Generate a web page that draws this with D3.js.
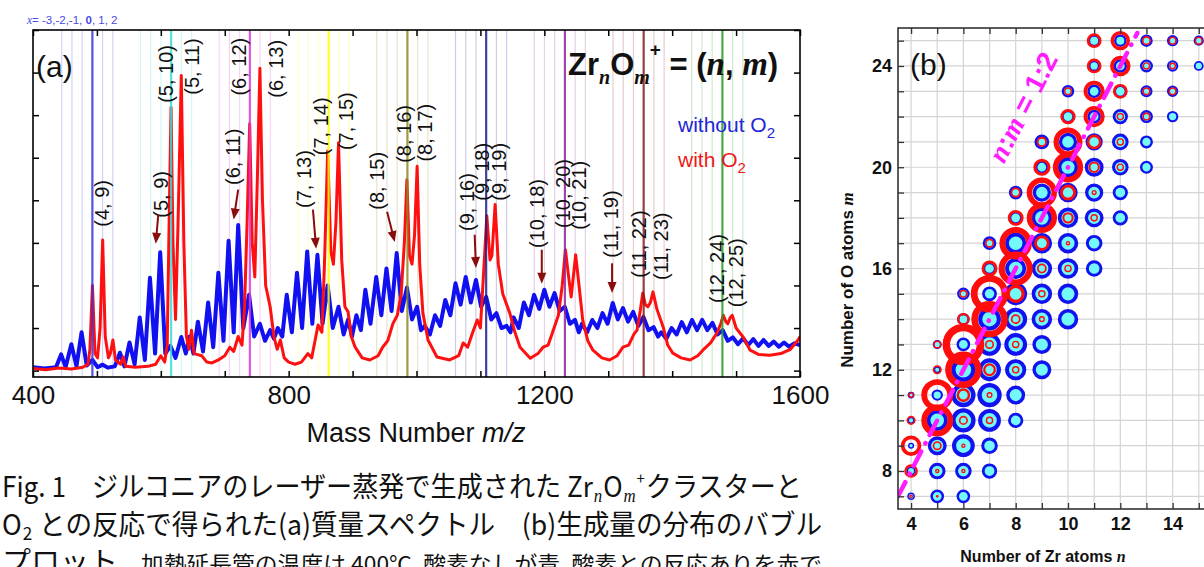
<!DOCTYPE html>
<meta charset="utf-8">
<style>
body{margin:0;background:#fff;}
svg{display:block;font-family:"Liberation Sans",Arial,sans-serif;}
.axis path{display:none;}
.axisA line{stroke:#000;stroke-width:1.5;}
.axisA text{font-size:26px;fill:#111;font-family:"Liberation Sans",Arial,sans-serif;}
.axisB line{stroke:#333;stroke-width:1.3;}
.axisB text{font-size:18px;font-weight:bold;fill:#111;font-family:"Liberation Sans",Arial,sans-serif;}
.peakLabel{font-size:20px;fill:#111;}
.cap{font-family:"Noto Sans CJK JP",sans-serif;fill:#111;}
</style>
<body>
<script src="https://cdn.jsdelivr.net/npm/d3@7"></script>
<script>
// ---------- data : panel (a) mass spectra ----------
var massTicks = [400,500,600,700,800,900,1000,1100,1200,1300,1400,1500,1600];
var massLabels = [400,800,1200,1600];
var intensityTicks = [0,1,2,3,4,5,6,7,8];

// Zr_nO_2n reference masses and their colours
var clusterN = [4,5,6,7,8,9,10,11,12];
var clusterMass = [492.9,616.1,739.3,862.5,985.8,1109.0,1232.2,1355.4,1478.6];
var clusterColor = ["#3434e0","#38dada","#d83ad8","#ffff00","#8c8a1e","#1c1c8c","#8e269e","#8c1a1a","#269c26"];
var oxygenShift = [-3,-2,-1,1,2];

// without O2 (blue) : [m/z, intensity]
var blueSpectrum = [
[400,0.08],[418,0.05],[436,0.08],[444,0.38],[451,0.08],[460,0.62],[468,0.1],[476,0.9],[484,0.12],[493,0.25],
[501,0.08],[509,0.14],[517,0.07],[528,0.1],[536,0.42],[543,0.1],[551,0.66],[559,0.15],[567,1.25],[575,0.25],
[583,2.18],[591,0.4],[599,2.78],[607,0.4],[615,0.58],[623,0.3],[632,0.79],[639,0.4],[645,0.8],[651,0.4],
[658,1.15],[666,0.45],[674,1.6],[682,0.55],[690,2.3],[698,0.7],[706,3.05],[714,0.9],[721,3.42],[729,1.0],
[738,1.78],[746,0.8],[755,1.1],[763,0.7],[771,0.95],[777,0.75],[783,1.0],[790,0.8],[797,1.78],[805,0.9],
[813,2.3],[821,1.0],[829,2.8],[837,1.1],[845,2.72],[853,1.1],[861,2.0],[869,1.0],[878,1.5],[886,0.85],
[893,1.2],[899,0.8],[906,1.3],[913,0.95],[920,1.9],[928,1.1],[937,2.2],[945,1.3],[953,2.4],[961,1.4],
[969,2.76],[977,1.4],[985,1.95],[993,1.2],[1001,1.5],[1007,0.95],[1013,1.05],[1021,0.85],[1029,1.3],[1037,1.05],
[1045,1.66],[1053,1.3],[1061,2.05],[1069,1.55],[1077,2.2],[1085,1.6],[1093,2.13],[1101,1.5],[1109,1.73],[1117,1.2],
[1125,1.35],[1133,1.0],[1141,1.05],[1147,0.9],[1152,1.25],[1160,1.0],[1168,1.6],[1176,1.3],[1184,1.78],[1192,1.45],
[1200,1.9],[1208,1.5],[1216,1.82],[1224,1.4],[1232,1.5],[1240,1.1],[1248,1.19],[1254,0.9],[1259,1.1],[1267,0.9],
[1275,1.19],[1283,1.0],[1291,1.35],[1299,1.1],[1307,1.59],[1315,1.2],[1323,1.47],[1331,1.15],[1339,1.38],[1347,1.05],
[1355,1.26],[1363,0.95],[1371,1.02],[1378,0.8],[1383,0.9],[1391,0.75],[1399,1.0],[1407,0.85],[1415,1.14],[1423,0.9],
[1431,1.19],[1439,0.95],[1447,1.19],[1455,0.95],[1463,1.12],[1471,0.85],[1479,0.95],[1487,0.7],[1495,0.78],[1503,0.62],
[1511,0.76],[1519,0.6],[1527,0.74],[1535,0.58],[1543,0.72],[1551,0.58],[1559,0.68],[1567,0.56],[1575,0.66],[1583,0.56],
[1591,0.64],[1600,0.6]
];

// with O2 (red) : [m/z, intensity]
var redSpectrum = [
[400,0.05],[420,0.02],[440,0.06],[460,0.04],[478,0.08],[486,0.15],[489,0.5],[493,2.0],[497,0.4],[501,0.3],
[505,1.0],[509,3.07],[513,0.8],[518,0.3],[521,0.4],[525,0.72],[529,0.25],[537,0.15],[541,0.32],[545,0.1],
[560,0.08],[580,0.1],[592,0.15],[600,0.35],[606,0.2],[610,0.6],[613,3.5],[616,6.18],[619,3.0],[623,1.2],
[627,3.5],[632,6.93],[636,3.0],[640,0.8],[644,0.5],[648,0.95],[652,0.4],[664,0.35],[672,0.2],[680,0.18],
[690,0.25],[700,0.35],[708,0.55],[714,0.45],[721,0.8],[727,0.6],[731,1.5],[735,3.5],[739,5.8],[743,3.0],
[747,2.2],[751,4.5],[755,7.1],[759,4.0],[764,2.0],[771,1.5],[777,0.8],[782,0.5],[787,0.72],[793,0.3],
[800,0.2],[810,0.15],[820,0.2],[830,0.4],[836,0.3],[846,1.07],[852,0.9],[856,2.5],[861,5.16],[866,2.8],
[870,2.5],[874,3.5],[878,5.35],[883,2.6],[888,1.5],[893,1.38],[898,0.8],[904,0.55],[915,0.3],[927,0.25],
[940,0.35],[947,0.55],[955,0.7],[963,1.1],[970,1.3],[976,1.8],[981,3.0],[985,4.48],[989,2.7],[993,2.5],
[997,3.2],[1001,4.8],[1005,2.5],[1010,1.35],[1018,0.72],[1032,0.32],[1052,0.25],[1066,0.35],[1073,0.65],[1080,0.55],
[1088,0.9],[1095,1.19],[1100,1.0],[1105,2.3],[1110,3.64],[1115,2.6],[1118,2.7],[1123,3.9],[1128,2.5],[1135,1.8],
[1146,1.35],[1154,0.9],[1162,0.55],[1178,0.29],[1190,0.4],[1198,0.55],[1206,0.6],[1214,0.95],[1222,1.3],[1228,2.0],
[1233,2.84],[1238,2.2],[1242,1.73],[1249,2.72],[1255,1.9],[1260,1.19],[1268,0.7],[1276,0.48],[1290,0.3],[1302,0.25],
[1314,0.35],[1323,0.55],[1332,0.6],[1340,0.85],[1345,0.95],[1350,1.4],[1354,1.82],[1358,1.55],[1362,1.5],[1366,1.6],
[1370,1.85],[1376,1.45],[1386,1.02],[1393,0.6],[1401,0.41],[1414,0.3],[1428,0.25],[1440,0.35],[1448,0.48],[1460,0.65],
[1470,0.88],[1476,1.1],[1480,1.3],[1484,1.15],[1487,1.1],[1491,1.25],[1494,1.3],[1500,1.0],[1511,0.79],[1522,0.48],
[1535,0.38],[1553,0.36],[1570,0.4],[1585,0.5],[1597,0.72],[1600,0.8]
];

// peak labels: text, m/z of anchor, intensity of anchor (text starts at anchor, reads upward)
var peakLabels = [
["(4, 9)",519,3.38],["(5, 9)",611,3.59],["(5, 10)",619,6.29],["(5, 11)",660,6.48],
["(6, 11)",724,4.36],["(6, 12)",733,6.46],["(6, 13)",791,6.41],
["(7, 13)",835,3.82],["(7, 14)",861,5.06],["(7, 15)",901,5.18],
["(8, 15)",949,3.78],["(8, 16)",991,4.88],["(8, 17)",1024,4.91],
["(9, 16)",1090,3.28],["(9, 18)",1113,3.99],["(9, 19)",1140,3.99],
["(10, 18)",1199,2.88],["(10, 20)",1240,3.35],["(10, 21)",1265,3.31],
["(11, 19)",1315,2.65],["(11, 22)",1359,2.18],["(11, 23)",1393,2.13],
["(12, 24)",1481,1.59],["(12, 25)",1511,1.49]
];
// arrows: from (m/z, intensity) to (m/z, intensity)
var peakArrows = [
[596,3.66,592,2.98],[721,4.25,714,3.55],[838,3.78,843,2.86],[954,3.73,966,3.02],
[1091,3.19,1093,2.41],[1196,2.84,1196,2.04],[1306,2.52,1306,1.82]
];

// ---------- data : panel (b) bubble plot ----------
var zrTicks = [4,5,6,7,8,9,10,11,12,13,14,15,16];
var zrLabels = [4,6,8,10,12,14];
var oTicks = [7,8,9,10,11,12,13,14,15,16,17,18,19,20,21,22,23,24,25];
var oLabels = [8,12,16,20,24];
// [n, m, abundance without O2, abundance with O2]
var bubbles = [
[11,25,9.3,13],[12,25,9.3,22.3],[13,25,9.3,4.9],[14,25,7.7,3.8],[15,25,6.2,3.8],
[11,24,7.7,13],[12,24,11.1,25],[13,24,10,3.4],[14,24,7.7,2.8],[15,24,5.7,0],
[10,23,9.3,3.8],[11,23,11.1,26.7],[12,23,11.1,13],[13,23,8.7,3.8],[14,23,7.7,3.8],
[10,22,11.1,13.9],[11,22,11.1,26.7],[12,22,13.9,3.4],[13,22,10,3.8],[14,22,7.7,0],
[9,21,13,6.2],[10,21,19.8,49.8],[11,21,17.4,13],[12,21,16.4,3.4],[13,21,10,0],
[9,20,11.1,17.4],[10,20,25,54.6],[11,20,21.3,7.7],[12,20,16.4,3.4],[13,20,10,0],
[8,19,11.1,6.2],[9,19,19.8,54.6],[10,19,22.3,15.1],[11,19,19.8,1.6],[12,19,13.9,0],
[8,18,11.1,15.1],[9,18,26.7,54.6],[10,18,25,7.7],[11,18,21.3,3.4],[12,18,13.9,0],
[7,17,11.1,4.9],[8,17,26.7,63.1],[9,17,25,13.9],[10,17,25,1.2],[11,17,16.4,0],
[7,16,11.1,15.1],[8,16,26.7,69.4],[9,16,25,5.7],[10,16,25,3.4],[11,16,16.4,0],
[6,15,9.3,3.8],[7,15,13,84],[8,15,30.9,19.8],[9,15,25,3.4],[10,15,25,0],
[6,14,9.3,9.3],[7,14,30.9,79],[8,14,30.9,5.7],[9,14,25,2.2],[10,14,25,0],
[5,13,4.9,3.8],[6,13,11.1,103],[7,13,30.9,4.9],[8,13,30.9,3.4],[9,13,21.3,0],
[5,12,2.8,4.9],[6,12,35.3,79],[7,12,30.9,10],[8,12,26.7,3.4],[9,12,21.3,0],
[4,11,2.8,1.9],[5,11,7.7,60.5],[6,11,35.3,11.1],[7,11,35.3,2.2],[8,11,21.3,0],
[4,10,2.8,4.9],[5,10,26.7,60.5],[6,10,35.3,4.9],[7,10,30.9,3.4],[8,10,13.9,0],
[4,9,2.2,25],[5,9,21.3,4.9],[6,9,30.9,1.2],[7,9,16.4,0],
[4,8,4.9,11.1],[5,8,16.4,1.2],[6,8,16.4,1.2],[7,8,13.9,0],
[4,7,3.4,0.9],[5,7,11.1,0.5],[6,7,11.1,0]
];
// n:m = 1:2 guide line, [n, m] ends
var ratioLine = [[3.5,7],[12.65,25.3]];

// ---------- svg ----------
var svg = d3.select("body").append("svg").attr("width",1204).attr("height",567);

// ================= panel (a) =================
var xA = d3.scaleLinear().domain([400,1600]).range([33,800]);
var yA = d3.scaleLinear().domain([-0.15,8.0]).range([377,30]);

svg.append("clipPath").attr("id","clipA").append("rect")
    .attr("x",33).attr("y",30).attr("width",767).attr("height",347);

var gA = svg.append("g").attr("clip-path","url(#clipA)");

// faint lines at x = -3..2 oxygen shifts
clusterMass.forEach(function(mass,i){
    oxygenShift.forEach(function(s){
        gA.append("line")
            .attr("x1",xA(mass+16*s)).attr("x2",xA(mass+16*s))
            .attr("y1",yA.range()[0]).attr("y2",yA.range()[1])
            .attr("stroke",clusterColor[i]).attr("stroke-opacity",0.22).attr("stroke-width",1.2);
    });
});

var lineA = d3.line().x(d=>xA(d[0])).y(d=>yA(d[1]));

gA.append("path").datum(blueSpectrum).attr("d",lineA)
    .attr("fill","none").attr("stroke","#1010f0").attr("stroke-width",4).attr("stroke-linejoin","round");
gA.append("path").datum(redSpectrum).attr("d",lineA)
    .attr("fill","none").attr("stroke","#ff1010").attr("stroke-width",3).attr("stroke-linejoin","round");

// x = 0 lines (Zr_nO_2n)
gA.selectAll(".refLine").data(clusterMass).enter().append("line").attr("class","refLine")
    .attr("x1",d=>xA(d)).attr("x2",d=>xA(d))
    .attr("y1",yA.range()[0]).attr("y2",yA.range()[1])
    .attr("stroke",(d,i)=>clusterColor[i]).attr("stroke-width",2.2).attr("stroke-opacity",0.85);

// axes
svg.append("g").attr("class","axis axisA").attr("transform","translate(0,377)")
    .call(d3.axisBottom(xA).tickValues(massTicks).tickSize(-6).tickPadding(9)
        .tickFormat(d=> massLabels.indexOf(d)>=0 ? d : ""));
svg.append("g").attr("class","axis axisA").attr("transform","translate(0,30)")
    .call(d3.axisTop(xA).tickValues(massTicks).tickSize(-6).tickFormat(""));
svg.append("g").attr("class","axis axisA").attr("transform","translate(33,0)")
    .call(d3.axisLeft(yA).tickValues(intensityTicks).tickSize(-6).tickFormat(""));
svg.append("g").attr("class","axis axisA").attr("transform","translate(800,0)")
    .call(d3.axisRight(yA).tickValues(intensityTicks).tickSize(-6).tickFormat(""));
svg.append("rect").attr("x",33).attr("y",30).attr("width",767).attr("height",347)
    .attr("fill","none").attr("stroke","#000").attr("stroke-width",1.6);

// peak labels
svg.selectAll(".peakLabel").data(peakLabels).enter().append("text").attr("class","peakLabel")
    .attr("transform",d=>"translate("+xA(d[1])+","+yA(d[2])+") rotate(-90)")
    .text(d=>d[0]);

// arrows
peakArrows.forEach(function(a){
    var x1=xA(a[0]), y1=yA(a[1]), x2=xA(a[2]), y2=yA(a[3]);
    var len=Math.hypot(x2-x1,y2-y1), ux=(x2-x1)/len, uy=(y2-y1)/len;
    var L=11, W=4.5;
    svg.append("line").attr("x1",x1).attr("y1",y1).attr("x2",x2-ux*L*0.8).attr("y2",y2-uy*L*0.8)
        .attr("stroke","#8a0c0c").attr("stroke-width",2);
    svg.append("path")
        .attr("d","M"+x2+","+y2+"L"+(x2-ux*L-uy*W)+","+(y2-uy*L+ux*W)+"L"+(x2-ux*L+uy*W)+","+(y2-uy*L-ux*W)+"Z")
        .attr("fill","#8a0c0c");
});

// titles in panel (a)
svg.append("text").attr("x",36).attr("y",77).attr("font-size",30).attr("fill","#111").text("(a)");

var tx = svg.append("text").attr("x",568).attr("y",75).attr("font-weight","bold").attr("fill","#111");
tx.append("tspan").attr("font-size",31).text("Zr");
tx.append("tspan").attr("font-size",20).attr("font-family","Liberation Serif,Times New Roman,serif").attr("font-style","italic").attr("dy",9).text("n");
tx.append("tspan").attr("font-size",31).attr("dy",-9).text("O");
tx.append("tspan").attr("font-size",20).attr("font-family","Liberation Serif,Times New Roman,serif").attr("font-style","italic").attr("dy",9).text("m");
tx.append("tspan").attr("font-size",19).attr("dy",-28).text("+");
tx.append("tspan").attr("font-size",31).attr("dy",19).text(" = (");
tx.append("tspan").attr("font-size",33).attr("font-family","Liberation Serif,Times New Roman,serif").attr("font-style","italic").text("n");
tx.append("tspan").attr("font-size",31).text(", ");
tx.append("tspan").attr("font-size",33).attr("font-family","Liberation Serif,Times New Roman,serif").attr("font-style","italic").text("m");
tx.append("tspan").attr("font-size",31).text(")");

var lg1 = svg.append("text").attr("x",678).attr("y",132).attr("font-size",21).attr("fill","#2424d8");
lg1.append("tspan").text("without O");
lg1.append("tspan").attr("font-size",15).attr("dy",6).text("2");
var lg2 = svg.append("text").attr("x",678).attr("y",167).attr("font-size",21).attr("fill","#ee1a1a");
lg2.append("tspan").text("with O");
lg2.append("tspan").attr("font-size",15).attr("dy",6).text("2");

var sx = svg.append("text").attr("x",27).attr("y",24).attr("font-size",11.5).attr("fill","#4a4ae0");
sx.append("tspan").attr("font-family","Liberation Serif,serif").attr("font-style","italic").text("x");
sx.append("tspan").text("= -3,-2,-1, ");
sx.append("tspan").attr("font-weight","bold").text("0");
sx.append("tspan").text(", 1, 2");

var xt = svg.append("text").attr("x",416).attr("y",442).attr("text-anchor","middle").attr("font-size",27).attr("fill","#111");
xt.append("tspan").text("Mass Number ");
xt.append("tspan").attr("font-style","italic").text("m/z");

// ================= panel (b) =================
var xB = d3.scaleLinear().domain([3.5,16.5]).range([898,1238]);
var yB = d3.scaleLinear().domain([6.5,25.5]).range([509,28]);
var rB = d3.scaleSqrt().domain([0,100]).range([0,20.5]);

svg.append("clipPath").attr("id","clipB").append("rect")
    .attr("x",898).attr("y",28).attr("width",340).attr("height",481);
var gB = svg.append("g").attr("clip-path","url(#clipB)");

gB.selectAll(".gx").data(zrTicks).enter().append("line")
    .attr("x1",d=>xB(d)).attr("x2",d=>xB(d)).attr("y1",28).attr("y2",509)
    .attr("stroke","#d4d4d4").attr("stroke-width",1.2);
gB.selectAll(".gy").data(oTicks).enter().append("line")
    .attr("y1",d=>yB(d)).attr("y2",d=>yB(d)).attr("x1",898).attr("x2",1238)
    .attr("stroke","#d4d4d4").attr("stroke-width",1.2);

function ring(sel, r){
    var sw = Math.max(1.4, r*0.36);
    sel.attr("r", Math.max(0.6, r - sw/2)).attr("stroke-width", sw);
}
bubbles.forEach(function(b){
    gB.append("circle").attr("cx",xB(b[0])).attr("cy",yB(b[1]))
        .attr("fill","#74f9f9").attr("stroke","#1212f0").call(ring, rB(b[2]));
});
bubbles.forEach(function(b){
    if(b[3] <= 0) return;
    gB.append("circle").attr("cx",xB(b[0])).attr("cy",yB(b[1]))
        .attr("fill","none").attr("stroke","#ff0c0c").call(ring, rB(b[3]));
});

gB.append("line")
    .attr("x1",xB(ratioLine[0][0])).attr("y1",yB(ratioLine[0][1]))
    .attr("x2",xB(ratioLine[1][0])).attr("y2",yB(ratioLine[1][1]))
    .attr("stroke","#ff1cff").attr("stroke-width",4.5).attr("stroke-linecap","round")
    .attr("stroke-dasharray","16,9,0.5,9");

svg.append("g").attr("class","axis axisB").attr("transform","translate(0,509)")
    .call(d3.axisBottom(xB).tickValues(zrTicks).tickSize(-6).tickPadding(8)
        .tickFormat(d=> zrLabels.indexOf(d)>=0 ? d : ""));
svg.append("g").attr("class","axis axisB").attr("transform","translate(0,28)")
    .call(d3.axisTop(xB).tickValues(zrTicks).tickSize(-6).tickFormat(""));
svg.append("g").attr("class","axis axisB").attr("transform","translate(898,0)")
    .call(d3.axisLeft(yB).tickValues(oTicks).tickSize(-6).tickPadding(6)
        .tickFormat(d=> oLabels.indexOf(d)>=0 ? d : ""));
svg.append("rect").attr("x",898).attr("y",28).attr("width",340).attr("height",481)
    .attr("fill","none").attr("stroke","#333").attr("stroke-width",1.6);

svg.append("text").attr("x",910).attr("y",75).attr("font-size",30).attr("fill","#111").text("(b)");

// n:m = 1:2 label along the guide line
var ang = Math.atan2(yB(ratioLine[1][1])-yB(ratioLine[0][1]), xB(ratioLine[1][0])-xB(ratioLine[0][0]))*180/Math.PI;
var rt = svg.append("text").attr("transform","translate("+xB(8.6)+","+yB(22.2)+") rotate("+ang+")")
    .attr("text-anchor","middle").attr("font-size",28).attr("font-weight","bold").attr("fill","#ff1cff");
rt.append("tspan").attr("font-family","Liberation Serif,serif").attr("font-style","italic").text("n");
rt.append("tspan").text(":");
rt.append("tspan").attr("font-family","Liberation Serif,serif").attr("font-style","italic").text("m");
rt.append("tspan").text(" = 1:2");

var yt = svg.append("text").attr("transform","translate(853,280) rotate(-90)")
    .attr("text-anchor","middle").attr("font-size",17).attr("font-weight","bold").attr("fill","#111");
yt.append("tspan").text("Number of O atoms ");
yt.append("tspan").attr("font-family","Liberation Serif,serif").attr("font-style","italic").text("m");
var xbt = svg.append("text").attr("x",1043).attr("y",562)
    .attr("text-anchor","middle").attr("font-size",16).attr("font-weight","bold").attr("fill","#111");
xbt.append("tspan").text("Number of Zr atoms ");
xbt.append("tspan").attr("font-family","Liberation Serif,serif").attr("font-style","italic").text("n");

// ================= caption =================
var c1 = svg.append("text").attr("class","cap").attr("x",2).attr("y",497).attr("font-size",28)
    .attr("textLength",800).attr("lengthAdjust","spacingAndGlyphs");
c1.append("tspan").text("Fig. 1　ジルコニアのレーザー蒸発で生成された Zr");
c1.append("tspan").attr("font-size",18).attr("font-family","Liberation Serif,serif").attr("font-style","italic").attr("dx",1).attr("dy",5).text("n");
c1.append("tspan").attr("dx",1).attr("dy",-5).text("O");
c1.append("tspan").attr("font-size",18).attr("font-family","Liberation Serif,serif").attr("font-style","italic").attr("dx",1).attr("dy",5).text("m");
c1.append("tspan").attr("font-size",16).attr("dx",1).attr("dy",-18).text("+");
c1.append("tspan").attr("dx",1).attr("dy",13).text("クラスターと");

var c2 = svg.append("text").attr("class","cap").attr("x",2).attr("y",535).attr("font-size",28)
    .attr("textLength",820).attr("lengthAdjust","spacingAndGlyphs");
c2.append("tspan").text("O");
c2.append("tspan").attr("font-size",18).attr("dx",1).attr("dy",5).text("2");
c2.append("tspan").attr("dx",1).attr("dy",-5).text(" との反応で得られた(a)質量スペクトル　(b)生成量の分布のバブル");

var c3 = svg.append("text").attr("class","cap").attr("x",2).attr("y",572).attr("font-size",28)
    .attr("textLength",820).attr("lengthAdjust","spacingAndGlyphs");
c3.append("tspan").text("プロット");
c3.append("tspan").attr("font-size",22).text("　加熱延長管の温度は 400℃, 酸素なしが青, 酸素との反応ありを赤で");
</script>
</body>
